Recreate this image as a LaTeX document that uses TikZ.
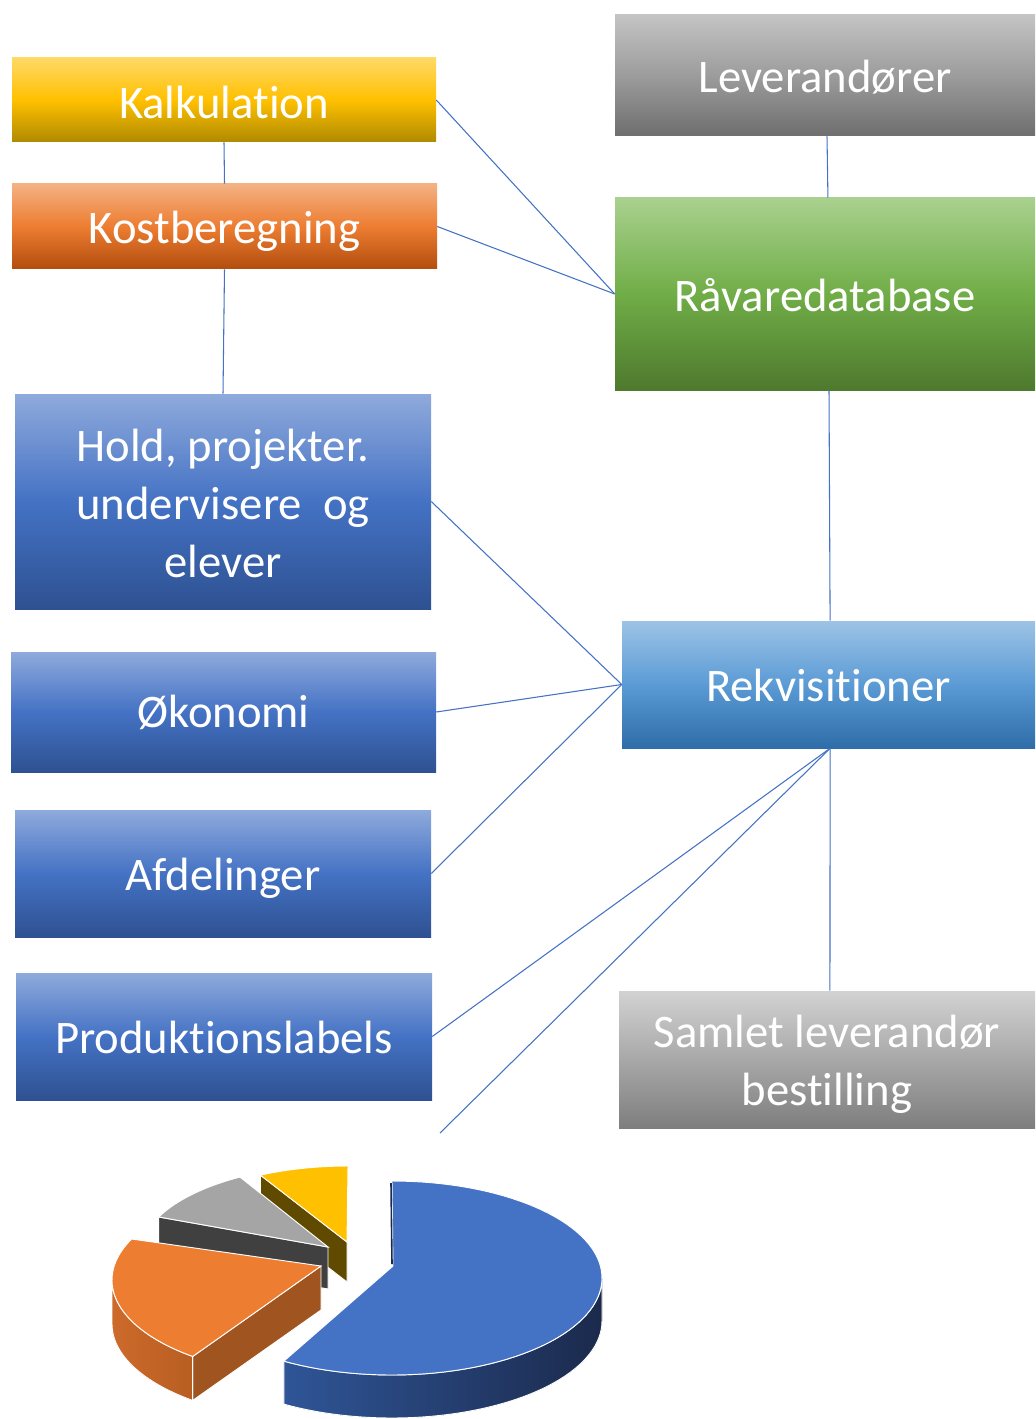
\documentclass[tikz,border=0pt]{standalone}
\usepackage{fontspec}
\setmainfont{Carlito}[Ligatures=NoCommon]
\newcommand\lowtxt[2][3.5pt]{\raisebox{-#1}[\height][\depth]{#2}}
\definecolor{linkblue}{HTML}{4472C4}
\definecolor{yelT}{HTML}{FFD966}\definecolor{yelM}{HTML}{FFC000}\definecolor{yelB}{HTML}{AF8A00}
\definecolor{orT}{HTML}{F4B183}\definecolor{orM}{HTML}{ED7D31}\definecolor{orB}{HTML}{B24D0E}
\definecolor{grT}{HTML}{C4C4C4}\definecolor{grM}{HTML}{9C9C9C}\definecolor{grB}{HTML}{6E6E6E}
\definecolor{gnT}{HTML}{A9D18E}\definecolor{gnM}{HTML}{70AD47}\definecolor{gnB}{HTML}{4E792E}
\definecolor{blT}{HTML}{8FAADC}\definecolor{blM}{HTML}{4472C4}\definecolor{blB}{HTML}{2E5191}
\definecolor{rkT}{HTML}{9DC3E6}\definecolor{rkM}{HTML}{5B9BD5}\definecolor{rkB}{HTML}{2E6DA8}
\definecolor{sgT}{HTML}{D2D2D2}\definecolor{sgM}{HTML}{A8A8A8}\definecolor{sgB}{HTML}{7E7E7E}
\definecolor{pieblue}{HTML}{4472C4}\definecolor{piebluedL}{HTML}{2F5597}\definecolor{piebluedR}{HTML}{1B2A4C}
\definecolor{pieorange}{HTML}{ED7D31}\definecolor{pieorL}{HTML}{CC6A2A}\definecolor{pieorR}{HTML}{B85E22}\definecolor{pieorside}{HTML}{A0541F}
\definecolor{piegray}{HTML}{A5A5A5}\definecolor{piegrayside}{HTML}{404040}
\definecolor{pieyellow}{HTML}{FFC000}\definecolor{pieyelside}{HTML}{604A00}
\tikzset{
  box/.style={rectangle, inner sep=0pt, align=center, text=white,
    font=\fontsize{35pt}{43.5pt}\selectfont},
  oneline/.style={text height=33pt, text depth=7.5pt},
  yelbox/.style={box, top color=yelT, bottom color=yelB, middle color=yelM},
  orbox/.style={box, top color=orT, bottom color=orB, middle color=orM},
  grbox/.style={box, top color=grT, bottom color=grB, middle color=grM},
  gnbox/.style={box, top color=gnT, bottom color=gnB, middle color=gnM},
  blbox/.style={box, top color=blT, bottom color=blB, middle color=blM},
  rkbox/.style={box, top color=rkT, bottom color=rkB, middle color=rkM},
  sgbox/.style={box, top color=sgT, bottom color=sgB, middle color=sgM},
  link/.style={draw=linkblue, line width=0.8pt},
  pieedge/.style={draw=white, line width=0.7pt},
}
\begin{document}
\begin{tikzpicture}[x=0.75pt, y=-0.75pt]
\path[use as bounding box] (0,0) rectangle (1035,1419);

% nodes
\node[yelbox, oneline, minimum width=318pt, minimum height=63pt] (kalk) at (224,100) {\lowtxt[0.8pt]{Kalkulation}};
\node[orbox, oneline, minimum width=318.75pt, minimum height=63.75pt] (kost) at (224.5,226.5) {Kostberegning};
\node[grbox, oneline, minimum width=315pt, minimum height=90.75pt] (lev) at (825,75.5) {Leverandører};
\node[gnbox, oneline, minimum width=315pt, minimum height=144pt] (raa) at (825,294) {Råvaredatabase};
\node[blbox, minimum width=312pt, minimum height=161.25pt] (hold) at (223,501.5) {\lowtxt[1.2pt]{Hold, projekter.}\\\lowtxt[1.2pt]{undervisere\ \ og}\\\lowtxt[1.2pt]{elever}};
\node[blbox, oneline, minimum width=318.75pt, minimum height=90pt] (oek) at (223.5,712) {\lowtxt[-1.5pt]{Økonomi}};
\node[blbox, oneline, minimum width=312pt, minimum height=95.25pt] (afd) at (223,873.5) {Afdelinger};
\node[blbox, oneline, minimum width=312pt, minimum height=95.25pt] (prod) at (224,1036.5) {Produktionslabels};
\node[rkbox, oneline, minimum width=309.75pt, minimum height=95.25pt] (rek) at (828.5,684.5) {Rekvisitioner};
\node[sgbox, minimum width=312pt, minimum height=102.75pt] (saml) at (827,1059.5) {\lowtxt{Samlet leverandør}\\\lowtxt{bestilling}};
\coordinate (pieend) at (440,1133);

% connectors
\draw[link] (kalk.south) -- (kost.north);
\draw[link] (kost.south) -- (hold.north);
\draw[link] (kalk.east) -- (raa.west);
\draw[link] (kost.east) -- (raa.west);
\draw[link] ([xshift=1.5pt]lev.south) -- ([xshift=2.2pt]raa.north);
\draw[link] ([xshift=3pt]raa.south) -- ([xshift=1.2pt]rek.north);
\draw[link] (hold.east) -- (rek.west);
\draw[link] (oek.east) -- (rek.west);
\draw[link] (afd.east) -- (rek.west);
\draw[link] (prod.east) -- ([xshift=1.2pt]rek.south);
\draw[link] (pieend) -- ([xshift=1.2pt]rek.south);
\draw[link] ([xshift=1.2pt]rek.south) -- ([xshift=2.2pt]saml.north);

% pie chart: yellow slice
\filldraw[fill=pieyelside, pieedge] (347,1242) -- (260.3,1175) -- (260.3,1215) -- (347,1282) -- cycle;
\filldraw[fill=pieyellow, pieedge] (347,1242) -- plot[domain=244:270, samples=20] ({348+200*cos(\x)},{1256+90*sin(\x)}) -- cycle;
% gray slice
\filldraw[fill=piegrayside, pieedge] (328,1247) -- (158.7,1217) -- (158.7,1259) -- (328,1289) -- cycle;
\filldraw[fill=piegray, pieedge] (328,1247) -- plot[domain=205:240, samples=20] ({340+200*cos(\x)},{1255+90*sin(\x)}) -- cycle;
% orange slice
\filldraw[fill=pieorside, pieedge] (321,1266) -- (192.7,1356.4) -- (192.7,1400.4) -- (321,1310) -- cycle;
\filldraw[left color=pieorL, right color=pieorR, pieedge]
  plot[domain=128:180, samples=30] ({322+210*cos(\x)},{1280+97*sin(\x)})
  -- plot[domain=180:128, samples=30] ({322+210*cos(\x)},{1324+97*sin(\x)}) -- cycle;
\filldraw[fill=pieorange, pieedge] (321,1266) -- plot[domain=128:205, samples=40] ({322+210*cos(\x)},{1280+97*sin(\x)}) -- cycle;
% blue slice
\filldraw[left color=piebluedL, right color=piebluedR, pieedge]
  plot[domain=0:121, samples=50] ({392+210*cos(\x)},{1278+97*sin(\x)})
  -- plot[domain=121:0, samples=50] ({392+210*cos(\x)},{1321+97*sin(\x)}) -- cycle;
\filldraw[fill=pieblue, pieedge] (393,1266) -- plot[domain=-90:121, samples=80] ({392+210*cos(\x)},{1278+97*sin(\x)}) -- cycle;
\draw[piebluedR, line width=1.2pt] (391,1183) -- (392,1264);
\end{tikzpicture}
\end{document}
